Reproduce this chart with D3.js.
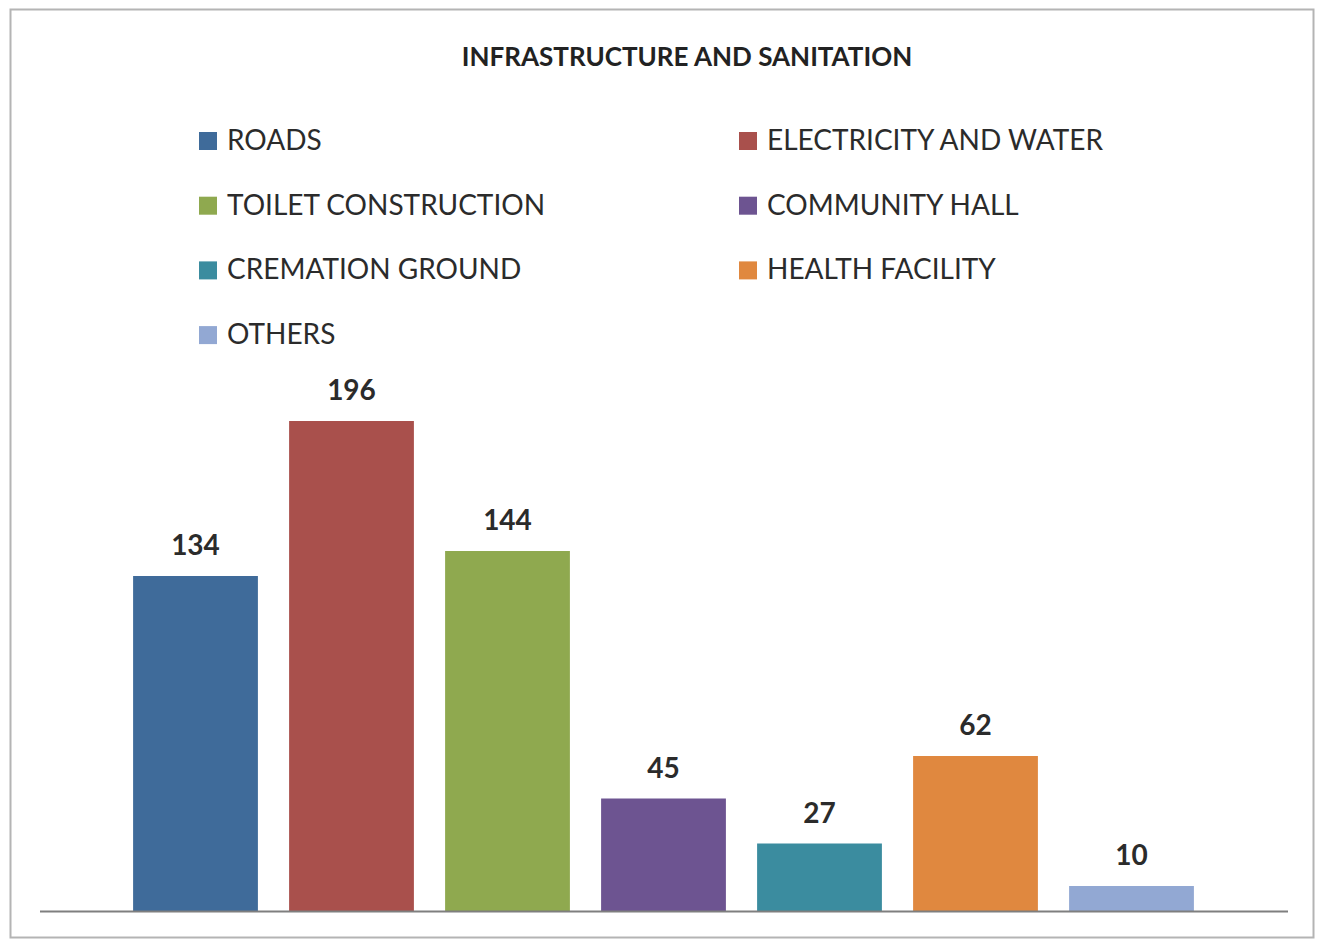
<!DOCTYPE html>
<html>
<head>
<meta charset="utf-8">
<script src="https://cdn.jsdelivr.net/npm/d3@7"></script>
<style>
  html, body { margin: 0; padding: 0; background: #ffffff; }
  svg { display: block; }
</style>
</head>
<body>
<svg id="chart" width="1317" height="943"></svg>
<script>
// Works counted per category
const categories = ["ROADS", "ELECTRICITY AND WATER", "TOILET CONSTRUCTION", "COMMUNITY HALL",
                    "CREMATION GROUND", "HEALTH FACILITY", "OTHERS"];
const values = [134, 196, 144, 45, 27, 62, 10];
const colors = ["#3f6b9a", "#a9504c", "#8fa94f", "#6d5491", "#3b8c9f", "#e0883f", "#92a8d3"];
const title = "INFRASTRUCTURE AND SANITATION";

const W = 1317, H = 943;
const svg = d3.select("#chart");
const font = "Lato, 'Open Sans', sans-serif";

// chart frame
svg.append("rect")
  .attr("x", 10.5).attr("y", 9.5)
  .attr("width", 1303).attr("height", 928)
  .attr("fill", "#ffffff")
  .attr("stroke", "#b4b4b4").attr("stroke-width", 2);

// title
svg.append("text")
  .attr("x", 687).attr("y", 66)
  .attr("text-anchor", "middle")
  .attr("font-family", font).attr("font-weight", "bold")
  .attr("font-size", 26).attr("fill", "#222222")
  .text(title);

// legend, two columns
const legend = svg.append("g");
categories.forEach((c, i) => {
  const col = i % 2, row = Math.floor(i / 2);
  const gx = col === 0 ? 199 : 739;
  const gy = 150 + row * 64.7;
  legend.append("rect")
    .attr("x", gx).attr("y", gy - 18)
    .attr("width", 18).attr("height", 18)
    .attr("fill", colors[i]);
  legend.append("text")
    .attr("x", gx + 28).attr("y", gy)
    .attr("font-family", font).attr("font-size", 28)
    .attr("fill", "#2b2b2b")
    .text(c);
});

// scales
const x = d3.scaleBand()
  .domain(categories)
  .range([117.5, 1209.5])
  .paddingInner(0.2)
  .paddingOuter(0.1);

const y = d3.scaleLinear()
  .domain([0, 250])
  .range([911, 286]);

// bars
svg.append("g").selectAll("rect")
  .data(categories)
  .join("rect")
  .attr("x", d => x(d))
  .attr("y", (d, i) => y(values[i]))
  .attr("width", x.bandwidth())
  .attr("height", (d, i) => y(0) - y(values[i]))
  .attr("fill", (d, i) => colors[i]);

// value labels
svg.append("g").selectAll("text")
  .data(categories)
  .join("text")
  .attr("x", d => x(d) + x.bandwidth() / 2)
  .attr("y", (d, i) => y(values[i]) - 21)
  .attr("text-anchor", "middle")
  .attr("font-family", font).attr("font-weight", "bold")
  .attr("font-size", 28).attr("fill", "#2b2b2b")
  .text((d, i) => values[i]);

// category axis line
svg.append("line")
  .attr("x1", 40).attr("x2", 1288)
  .attr("y1", y(0) + 0.5).attr("y2", y(0) + 0.5)
  .attr("stroke", "#7f7f7f").attr("stroke-width", 2);
</script>
</body>
</html>
